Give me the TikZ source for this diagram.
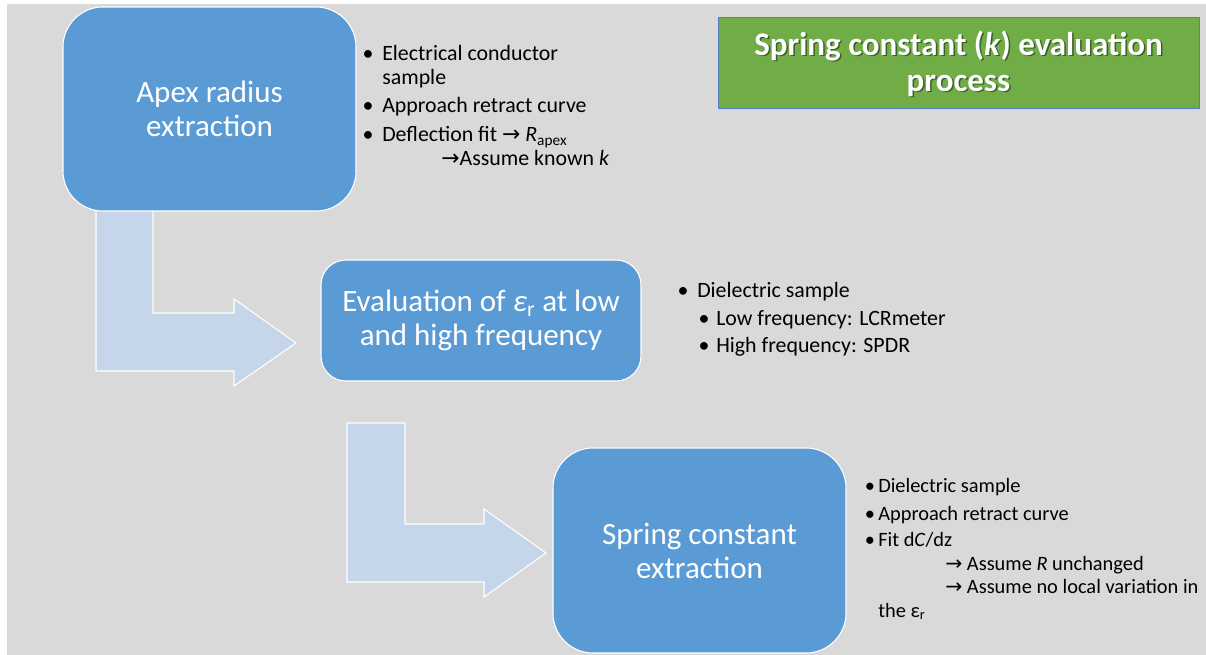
\documentclass[tikz,border=0pt]{standalone}
\usepackage{fontspec}
\setmainfont{Carlito}
\newfontfamily\arrowfont{DejaVu Sans}
\definecolor{bggray}{HTML}{D9D9D9}
\definecolor{boxblue}{HTML}{5B9BD5}
\definecolor{arrowblue}{HTML}{C5D5EA}
\definecolor{titlegreen}{HTML}{70AD47}
\definecolor{titleborder}{HTML}{4F7FC0}
\newcommand{\arr}{{\arrowfont →}}
\tikzset{
  stepbox/.style={fill=boxblue, draw=white, line width=0.8pt, text=white, align=center,
    font=\fontsize{23.25pt}{25.5pt}\selectfont, inner sep=0pt},
  bentarrow/.style={fill=arrowblue, draw=white, line width=0.8pt},
  bul/.style={anchor=base, inner sep=0pt, font=\fontsize{16.4pt}{18pt}\selectfont},
  txt/.style={anchor=base west, inner sep=0pt, font=\fontsize{16.4pt}{18pt}\selectfont},
  bulsm/.style={anchor=base, inner sep=0pt, font=\fontsize{15.3pt}{17pt}\selectfont},
  txtsm/.style={anchor=base west, inner sep=0pt, font=\fontsize{15.3pt}{17pt}\selectfont},
}
\begin{document}
\begin{tikzpicture}[x=0.75pt,y=-0.75pt]
\useasboundingbox (0,0) rectangle (1206,655);
\fill[white] (0,0) rectangle (1206,655);
\fill[bggray] (7,4) rectangle (1206,655);
% bent arrows
\draw[bentarrow] (96,200) -- (153,200) -- (153,313) -- (234,313) -- (234,299) -- (296,343)
  -- (234,386) -- (234,371) -- (96,371) -- cycle;
\draw[bentarrow] (347,423) -- (405,423) -- (405,524) -- (484,524) -- (484,509) -- (546,553)
  -- (484,597) -- (484,582) -- (347,582) -- cycle;
% boxes
\node[stepbox, rounded corners=30pt, minimum width=219.75pt, minimum height=153pt]
  (apex) at (209.5,109) {Apex radius\\extraction};
\node[stepbox, rounded corners=18.75pt, minimum width=240pt, minimum height=90.75pt]
  (eval) at (481,320.5) {Evaluation of \textit{ε}\textsubscript{r} at low\\and high frequency};
\node[stepbox, rounded corners=30pt, minimum width=219.75pt, minimum height=153.75pt]
  (spring) at (699.5,550.5) {Spring constant\\extraction};
% title
\node[fill=titlegreen, draw=titleborder, line width=0.6pt, minimum width=360.75pt, minimum height=68.25pt, inner sep=0pt]
  (titlebox) at (958.5,62.5) {};
\node[text=black, opacity=0.45, align=center, inner sep=0pt, font=\bfseries\fontsize{24.75pt}{27pt}\selectfont]
  (titleshadow) at (960,65) {Spring constant (\textit{k}) evaluation\\process};
\node[text=white, align=center, inner sep=0pt, font=\bfseries\fontsize{24.75pt}{27pt}\selectfont]
  (title) at (958.5,63.5) {Spring constant (\textit{k}) evaluation\\process};
% bullets box 1
\node[bul] (b1a) at (368,61) {•};
\node[txt] (t1a) at (382,61) {Electrical conductor};
\node[txt] (t1b) at (382,85) {sample};
\node[bul] (b1c) at (368,113) {•};
\node[txt] (t1c) at (382,113) {Approach retract curve};
\node[bul] (b1d) at (368,142) {•};
\node[txt] (t1d) at (382,142) {Deflection fit \arr{} \textit{R}\textsubscript{apex}};
\node[txt] (t1e) at (441,166) {\arr{}Assume known \textit{k}};
% bullets box 2
\node[bul] (b2a) at (683,298) {•};
\node[txt] (t2a) at (697,298) {Dielectric sample};
\node[bul] (b2b) at (704,326) {•};
\node[txt] (t2b) at (716,326) {Low frequency: LCRmeter};
\node[bul] (b2c) at (704,353) {•};
\node[txt] (t2c) at (716,353) {High frequency: SPDR};
% bullets box 3
\node[bulsm] (b3a) at (870,493) {•};
\node[txtsm] (t3a) at (878,493) {Dielectric sample};
\node[bulsm] (b3b) at (870,520) {•};
\node[txtsm] (t3b) at (878,520) {Approach retract curve};
\node[bulsm] (b3c) at (870,546) {•};
\node[txtsm] (t3c) at (878,546) {Fit d\textit{C}/dz};
\node[txtsm] (t3d) at (945,570) {\arr{} Assume \textit{R} unchanged};
\node[txtsm] (t3e) at (945,593) {\arr{} Assume no local variation in};
\node[txtsm] (t3f) at (878,617) {the ε\textsubscript{r}};
\end{tikzpicture}
\end{document}
